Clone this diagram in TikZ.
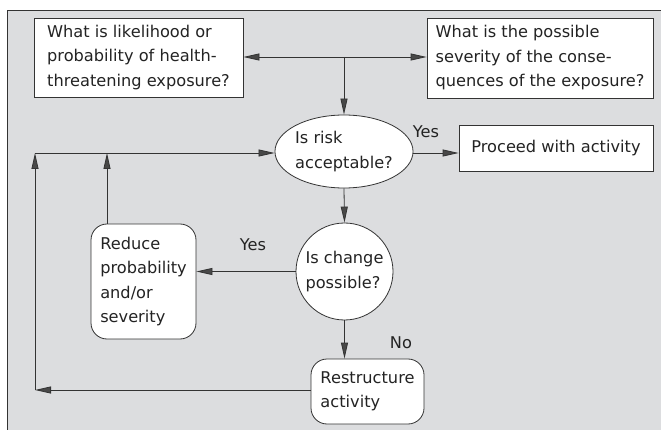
\documentclass[tikz,border=0pt]{standalone}
\usepackage{fontspec}
\setmainfont{DejaVu Sans}
\usetikzlibrary{arrows.meta,shapes.geometric}
\definecolor{bg}{HTML}{DCDDDF}
\definecolor{ln}{HTML}{333333}
\definecolor{tipc}{HTML}{484848}
\definecolor{txt}{HTML}{232323}
\begin{document}
\begin{tikzpicture}[x=1pt,y=-1pt,
  every node/.style={font=\fontsize{16.2}{24.5}\selectfont, text=txt},
  sqbox/.style={draw=ln, fill=white, line width=0.8pt, inner sep=0pt, align=left},
  rbox/.style={sqbox, rounded corners=16pt},
  oval/.style={draw=ln, fill=white, line width=0.8pt, inner sep=0pt, align=left, ellipse},
  lbl/.style={inner sep=0pt},
  conn/.style={draw=ln, line width=0.8pt},
  arr/.style={conn, -{Triangle[length=16pt,width=7pt,fill=tipc]}}
]
\useasboundingbox (0,0) rectangle (661,430);
\fill[bg] (7,10) rectangle (670,440);
\draw[ln, line width=0.8pt] (7,440) -- (7,10) -- (670,10);

\node[sqbox, minimum width=209pt, minimum height=79pt] (lik) at (138.5,57.5)
  {What is likelihood or\\probability of health-\\threatening exposure?};
\node[sqbox, minimum width=226pt, minimum height=80pt] (sev) at (540,58)
  {What is the possible\\severity of the conse-\\quences of the exposure?};
\node[oval, minimum width=124pt, minimum height=73pt] (acc) at (344,151.5)
  {Is risk\\acceptable?};
\node[sqbox, minimum width=194pt, minimum height=46pt, align=center] (pro) at (556,148)
  {Proceed with activity};
\node[oval, circle, minimum size=97pt] (chg) at (344.5,271.5)
  {Is change\\possible?};
\node[rbox, minimum width=105pt, minimum height=115pt] (red) at (143.5,281.5)
  {Reduce\\probability\\and/or\\severity};
\node[rbox, minimum width=113pt, minimum height=65pt] (res) at (367.5,391.5)
  {Restructure\\activity};

\node[lbl] (yes1) at (426,132) {Yes};
\node[lbl] (yes2) at (253,245) {Yes};
\node[lbl] (no) at (401,343) {No};

\coordinate (J) at (344,57);
\coordinate (L1) at (35,153);
\coordinate (L2) at (107,153);
\coordinate (L3) at (35,390);

\draw[arr] (J) -- (lik.east |- J);
\draw[arr] (J) -- (sev.west |- J);
\draw[arr] (J) -- (acc.north);
\draw[arr] (acc.east |- L1) -- (pro.west |- L1);
\draw[arr] (acc.south) -- (chg.north);
\draw[arr] (chg.west) -- (red.east |- chg.west);
\draw[arr] (chg.south) -- (chg.south |- res.north);
\draw[arr] (res.west |- L3) -- (L3);
\draw[arr] (L3) -- (L1);
\draw[arr] (red.north -| L2) -- (L2);
\draw[arr] (L1) -- (acc.west |- L1);
\end{tikzpicture}
\end{document}
